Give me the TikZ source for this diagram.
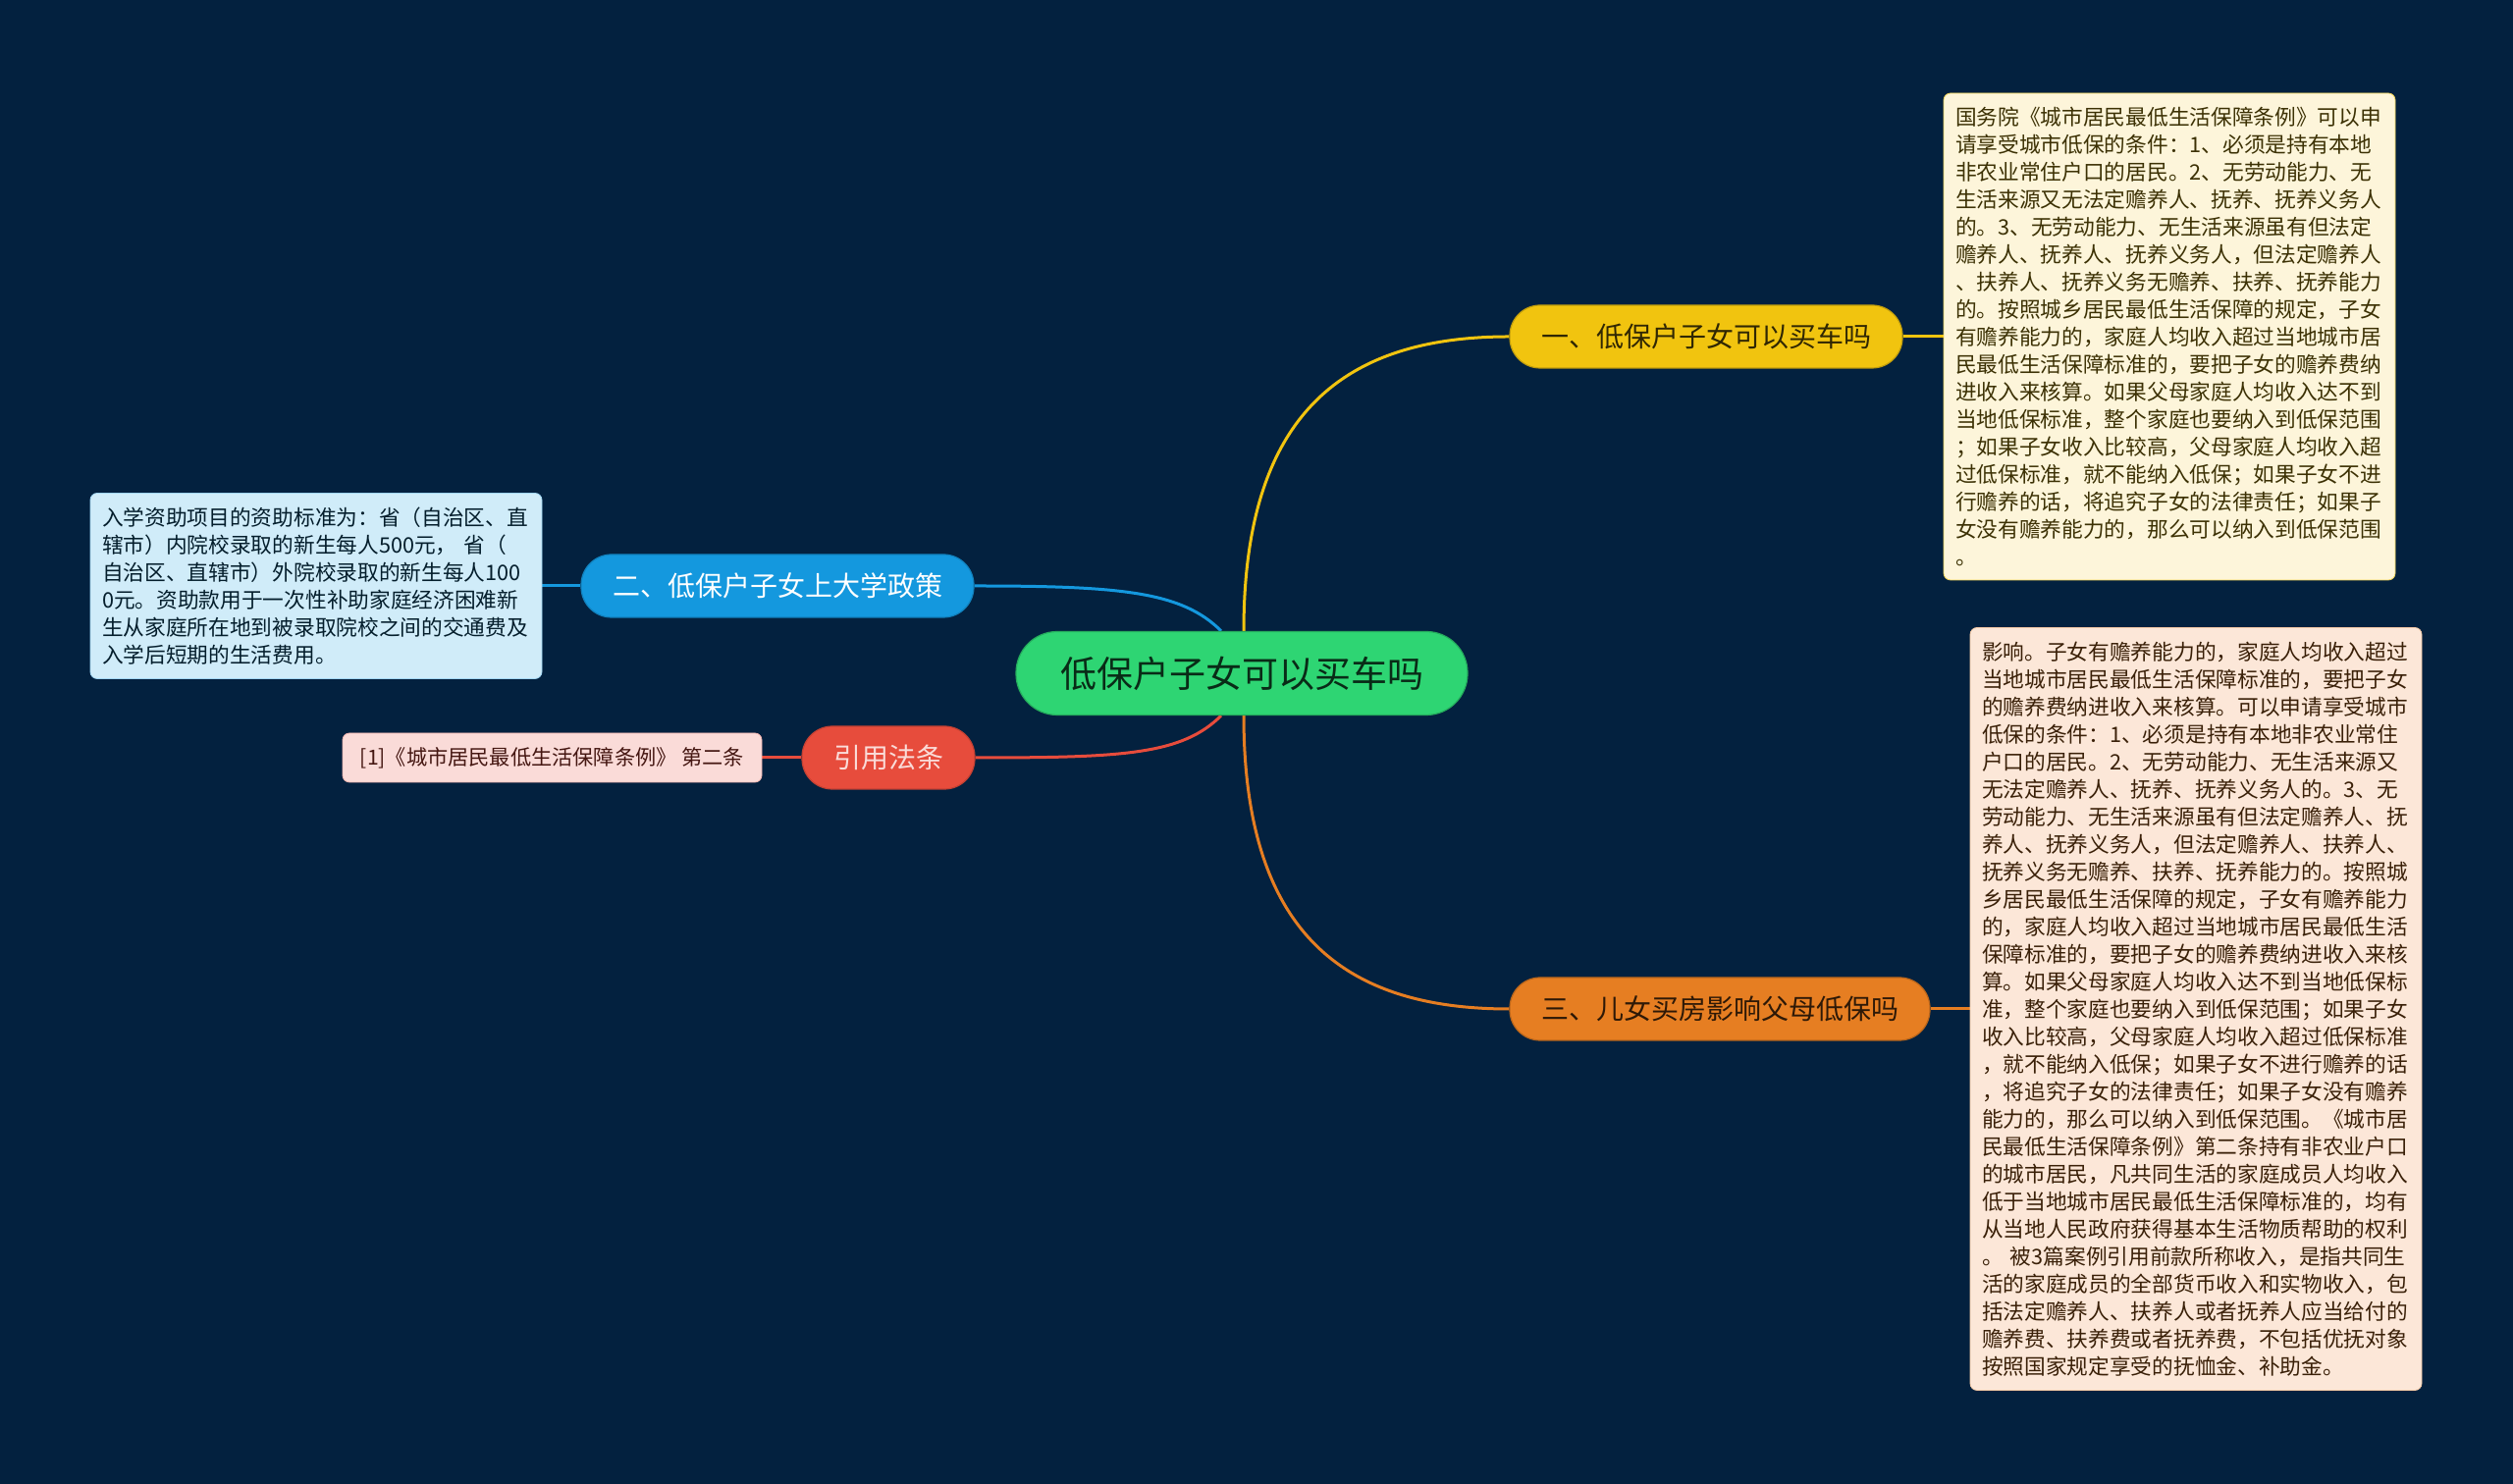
\documentclass[tikz,border=0pt]{standalone}
\usepackage{fontspec}
\setmainfont{Noto Sans CJK SC}
\usetikzlibrary{positioning}
\pgfdeclarelayer{bg}
\pgfsetlayers{bg,main}
\definecolor{navy}{RGB}{3,33,63}
\definecolor{rootgreen}{RGB}{46,213,115}
\definecolor{ylw}{RGB}{241,196,15}
\definecolor{org}{RGB}{230,126,34}
\definecolor{blu}{RGB}{20,152,222}
\definecolor{rd}{RGB}{231,76,60}
\definecolor{ylwleaf}{RGB}{253,245,218}
\definecolor{orgleaf}{RGB}{252,231,216}
\definecolor{bluleaf}{RGB}{208,236,249}
\definecolor{rdleaf}{RGB}{250,219,216}

\begin{document}
\begin{tikzpicture}[x=1pt,y=1pt,
    pill/.style={rounded corners=31pt, minimum height=64pt, inner xsep=32pt,
        line width=1.2pt, font=\fontsize{28}{30}\selectfont},
    leaf/.style={rounded corners=7pt, inner xsep=12pt, inner ysep=8pt, align=left,
        text width=436pt, line width=0.8pt, font=\fontsize{21.7}{28}\selectfont},
    refbox/.style={rounded corners=7pt, minimum width=427pt, minimum height=50pt,
        line width=0.8pt, font=\fontsize{21.2}{24}\selectfont},
    link/.style={line width=3pt}
]
    \useasboundingbox (0,0) rectangle (2560,1512);
    \begin{pgfonlayer}{bg}
    \fill[navy] (0,0) rectangle (2560,1512);
    \end{pgfonlayer}

    % root and branches
    \node[pill, rounded corners=42pt, minimum height=85pt, inner xsep=45pt,
        fill=rootgreen, draw=rootgreen!80!black, text=rootgreen!20!black,
        font=\fontsize{37}{40}\selectfont] (root) at (1265,826) {低保户子女可以买车吗};
    \node[pill, fill=ylw, draw=ylw!80!black, text=ylw!20!black] (b1) at (1738,1169) {一、低保户子女可以买车吗};
    \node[pill, fill=blu, draw=blu!85!black, text=white] (b2) at (792,915) {二、低保户子女上大学政策};
    \node[pill, fill=rd, draw=rd!85!black, text=rdleaf] (b4) at (905,740) {引用法条};
    \node[pill, fill=org, draw=org!80!black, text=org!20!black] (b3) at (1752,484) {三、儿女买房影响父母低保吗};

    % leaves
    \node[leaf, right=41pt of b1, minimum height=496pt, fill=ylwleaf, draw=ylw!70!white,
        text=ylw!25!black] (t1) {国务院《城市居民最低生活保障条例》可以申\\
请享受城市低保的条件：1、必须是持有本地\\
非农业常住户口的居民。2、无劳动能力、无\\
生活来源又无法定赡养人、抚养、抚养义务人\\
的。3、无劳动能力、无生活来源虽有但法定\\
赡养人、抚养人、抚养义务人，但法定赡养人\\
、扶养人、抚养义务无赡养、扶养、抚养能力\\
的。按照城乡居民最低生活保障的规定，子女\\
有赡养能力的，家庭人均收入超过当地城市居\\
民最低生活保障标准的，要把子女的赡养费纳\\
进收入来核算。如果父母家庭人均收入达不到\\
当地低保标准，整个家庭也要纳入到低保范围\\
；如果子女收入比较高，父母家庭人均收入超\\
过低保标准，就不能纳入低保；如果子女不进\\
行赡养的话，将追究子女的法律责任；如果子\\
女没有赡养能力的，那么可以纳入到低保范围\\
。};
    \node[leaf, left=39pt of b2, minimum height=189pt, fill=bluleaf, draw=blu!40!white,
        text=blu!20!black] (t2) {入学资助项目的资助标准为：省（自治区、直\\
辖市）内院校录取的新生每人500元， 省（\\
自治区、直辖市）外院校录取的新生每人100\\
0元。资助款用于一次性补助家庭经济困难新\\
生从家庭所在地到被录取院校之间的交通费及\\
入学后短期的生活费用。};
    \node[refbox, left=40pt of b4, fill=rdleaf, draw=rd!40!white, text=rd!30!black] (t4)
        {[1]《城市居民最低生活保障条例》 第二条};
    \node[leaf, right=40pt of b3, minimum height=777pt, fill=orgleaf, draw=org!40!white,
        text=org!25!black] (t3) {影响。子女有赡养能力的，家庭人均收入超过\\
当地城市居民最低生活保障标准的，要把子女\\
的赡养费纳进收入来核算。可以申请享受城市\\
低保的条件：1、必须是持有本地非农业常住\\
户口的居民。2、无劳动能力、无生活来源又\\
无法定赡养人、抚养、抚养义务人的。3、无\\
劳动能力、无生活来源虽有但法定赡养人、抚\\
养人、抚养义务人，但法定赡养人、扶养人、\\
抚养义务无赡养、扶养、抚养能力的。按照城\\
乡居民最低生活保障的规定，子女有赡养能力\\
的，家庭人均收入超过当地城市居民最低生活\\
保障标准的，要把子女的赡养费纳进收入来核\\
算。如果父母家庭人均收入达不到当地低保标\\
准，整个家庭也要纳入到低保范围；如果子女\\
收入比较高，父母家庭人均收入超过低保标准\\
，就不能纳入低保；如果子女不进行赡养的话\\
，将追究子女的法律责任；如果子女没有赡养\\
能力的，那么可以纳入到低保范围。《城市居\\
民最低生活保障条例》第二条持有非农业户口\\
的城市居民，凡共同生活的家庭成员人均收入\\
低于当地城市居民最低生活保障标准的，均有\\
从当地人民政府获得基本生活物质帮助的权利\\
。 被3篇案例引用前款所称收入，是指共同生\\
活的家庭成员的全部货币收入和实物收入，包\\
括法定赡养人、扶养人或者抚养人应当给付的\\
赡养费、扶养费或者抚养费，不包括优抚对象\\
按照国家规定享受的抚恤金、补助金。};

    \begin{pgfonlayer}{bg}
    \draw[link, ylw] ([xshift=2pt]root.north) .. controls +(0,225) and +(-165,0) .. (b1.west);
    \draw[link, org] ([xshift=2pt]root.south) .. controls +(0,-225) and +(-165,0) .. (b3.west);
    \draw[link, blu] ([xshift=-21pt]root.north) .. controls +(-40,40) and +(150,0) .. (b2.east);
    \draw[link, rd] ([xshift=-21pt]root.south) .. controls +(-40,-40) and +(150,0) .. (b4.east);
    \draw[link, ylw] (b1) -- (t1);
    \draw[link, org] (b3) -- (t3);
    \draw[link, blu] (b2) -- (t2);
    \draw[link, rd] (b4) -- (t4);
    \end{pgfonlayer}
\end{tikzpicture}
\end{document}
